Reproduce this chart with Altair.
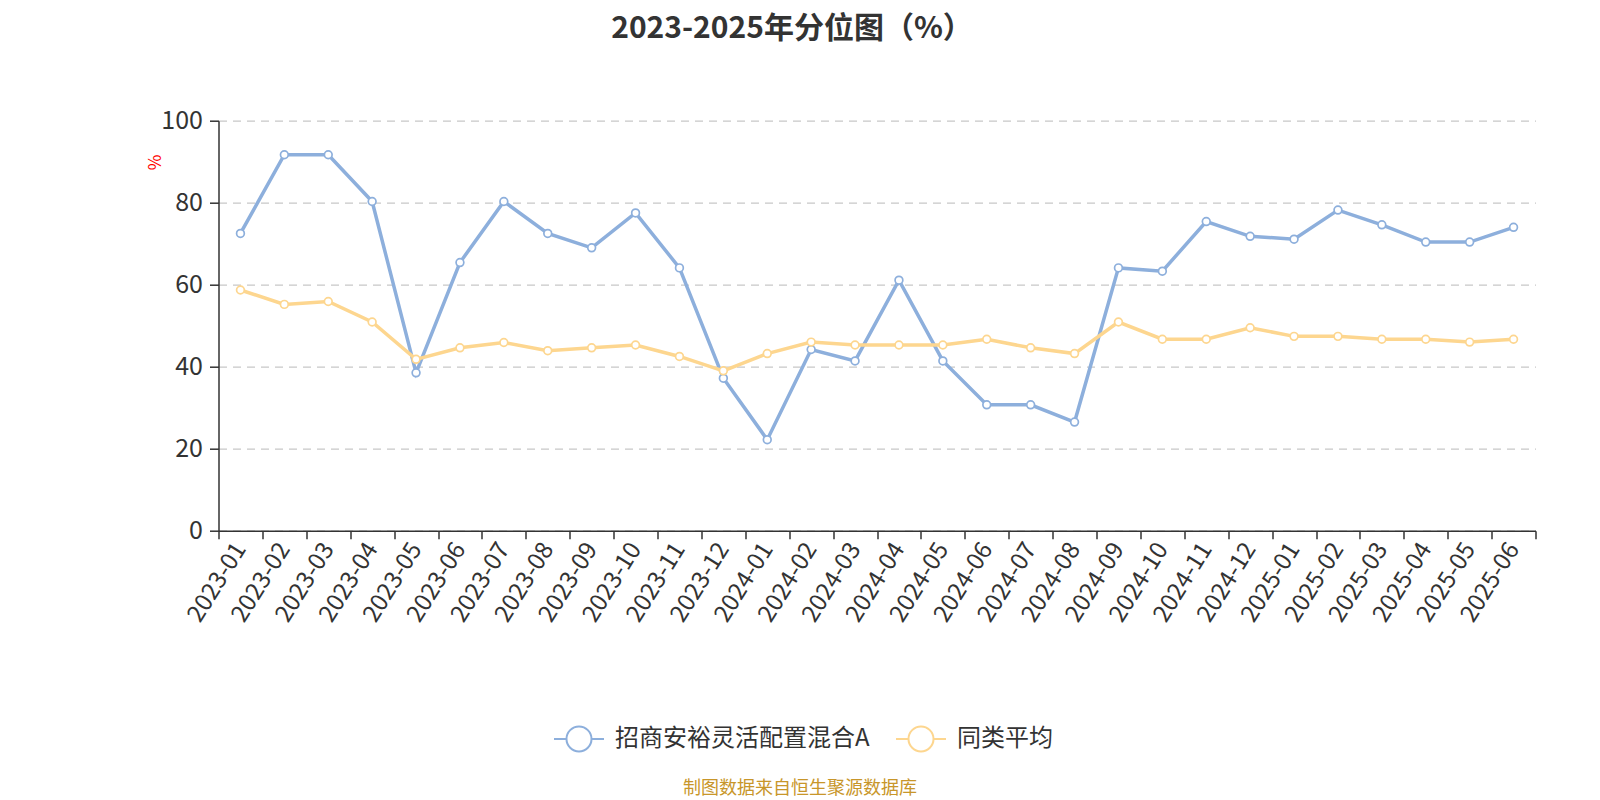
import altair as alt
import pandas as pd

months = ["2023-01","2023-02","2023-03","2023-04","2023-05","2023-06","2023-07","2023-08","2023-09","2023-10","2023-11","2023-12",
          "2024-01","2024-02","2024-03","2024-04","2024-05","2024-06","2024-07","2024-08","2024-09","2024-10","2024-11","2024-12",
          "2025-01","2025-02","2025-03","2025-04","2025-05","2025-06"]
fund_name = "招商安裕灵活配置混合A"
peer_name = "同类平均"
fund_vals = [72.5, 91.7, 91.7, 80.3, 38.5, 65.4, 80.3, 72.5, 69.0, 77.5, 64.1, 37.2,
             22.2, 44.2, 41.4, 61.1, 41.4, 30.7, 30.7, 26.5, 64.1, 63.3, 75.4, 71.8,
             71.1, 78.2, 74.6, 70.4, 70.4, 74.0]
peer_vals = [58.7, 55.2, 55.9, 50.9, 41.8, 44.6, 45.9, 43.9, 44.6, 45.3, 42.5, 39.0,
             43.2, 46.0, 45.3, 45.3, 45.3, 46.7, 44.6, 43.2, 50.9, 46.7, 46.7, 49.5,
             47.4, 47.4, 46.7, 46.7, 46.0, 46.7]
colors = ["#8dafdc", "#fdd68f"]

df = pd.DataFrame({
    "month": months * 2,
    "series": [fund_name] * len(months) + [peer_name] * len(months),
    "value": fund_vals + peer_vals,
})

FONT = "Noto Sans CJK SC"
W, H = 1317, 410
LEFT, TOP = 218.5, 120.7

x = alt.X("month:O", sort=months,
          scale=alt.Scale(type="band", paddingInner=0, paddingOuter=0),
          axis=alt.Axis(title=None, labelAngle=-58, labelFontSize=24, labelColor="#333",
                        labelFont=FONT, tickBand="extent", tickSize=8, tickColor="#333",
                        tickWidth=1.5, domainColor="#333", domainWidth=1.5,
                        labelPadding=6, grid=False))
y = alt.Y("value:Q", scale=alt.Scale(domain=[0, 100], nice=False),
          axis=alt.Axis(title="%", titleColor="red", titleFontSize=17, titleFontWeight="normal",
                        titleFont=FONT, titleX=155.5 - LEFT, titleY=162 - TOP, titleAngle=270,
                        titleAlign="center", titleBaseline="middle",
                        values=[0, 20, 40, 60, 80, 100], labelFontSize=25, labelColor="#333",
                        labelFont=FONT, tickSize=9, tickColor="#333", tickWidth=1.5,
                        domainColor="#333", domainWidth=1.5, labelPadding=7,
                        grid=True, gridDash=[8, 6], gridColor="#c8c8c8", gridWidth=1.2))
color = alt.Color("series:N", sort=[fund_name, peer_name],
                  scale=alt.Scale(domain=[fund_name, peer_name], range=colors),
                  legend=alt.Legend(title=None, orient="none", direction="horizontal",
                                    legendX=553 - LEFT, legendY=712.7 - TOP,
                                    labelFontSize=24, labelColor="#333", labelFont=FONT,
                                    labelLimit=0,
                                    symbolType="M-1,0L-0.5,0M0.5,0L1,0M-0.5,0A0.5,0.5 0 1,0 0.5,0A0.5,0.5 0 1,0 -0.5,0",
                                    symbolSize=2500, symbolStrokeWidth=2, symbolFillColor="white",
                                    labelOffset=10, columnPadding=22))

base = alt.Chart(df)
lines = base.mark_line(strokeWidth=3.5).encode(x=x, y=y, color=color)
points = base.mark_point(shape="circle", filled=False, fill="white", fillOpacity=1,
                         size=60, strokeWidth=1.7, opacity=1).encode(x=x, y=y, color=color)

src = alt.Chart(pd.DataFrame({"t": ["制图数据来自恒生聚源数据库"]})).mark_text(
    font=FONT, fontSize=18, color="#c8962a", align="center", baseline="middle"
).encode(text="t:N", x=alt.value(800 - LEFT), y=alt.value(789 - TOP))

chart = alt.layer(lines, points, src).properties(
    width=W, height=H,
    title=alt.TitleParams("2023-2025年分位图（%）", fontSize=30, fontWeight="bold", color="#333",
                          font=FONT, anchor="middle", dx=792 - (LEFT + W / 2), offset=65),
    autosize=alt.AutoSizeParams(type="none"),
    padding={"left": LEFT - 8, "top": TOP - 8, "right": 1584 - (LEFT - 8) - W, "bottom": 792 - (TOP - 8) - H},
).configure(background="white").configure_view(stroke=None, strokeWidth=0)

chart.save("out.html", embed_options={"renderer": "svg", "actions": False})
